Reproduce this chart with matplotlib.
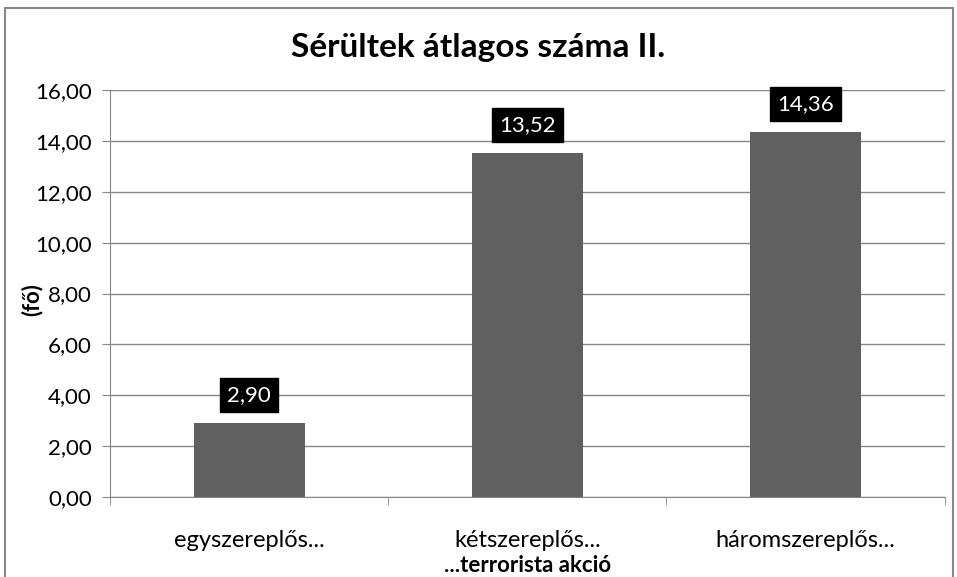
from matplotlib import pyplot as plt
from matplotlib.patches import Rectangle

categories = ["egyszereplős...", "kétszereplős...", "háromszereplős..."]
values = [2.90, 13.52, 14.36]
value_labels = ["2,90", "13,52", "14,36"]
yticks = [0, 2, 4, 6, 8, 10, 12, 14, 16]

plt.rcParams['font.family'] = ['Lato', 'DejaVu Sans']

fig = plt.figure(figsize=(9.57, 5.77), dpi=100)
fig.patches.append(Rectangle((5 / 957, -0.05), 948 / 957, 1.05 - 8 / 577,
                             transform=fig.transFigure, fill=False,
                             edgecolor='#888888', linewidth=1.5))

ax = fig.add_axes([0.115, 0.1386, 0.872, 0.7054])
x = range(len(categories))
ax.bar(x, values, width=0.4, color='#606060', zorder=3)

for i, v in enumerate(values):
    ax.text(i, v + 1.1, value_labels[i], ha='center', va='center',
            color='white', fontsize=16,
            bbox=dict(facecolor='black', edgecolor='black', pad=5), zorder=4)

ax.set_xlim(-0.5, 2.5)
ax.set_ylim(0, 16)
ax.set_yticks(yticks)
ax.set_yticklabels([("%.2f" % t).replace(".", ",") for t in yticks])
ax.set_xticks(list(x))
ax.set_xticklabels(categories, fontsize=17)
ax.set_xticks([-0.5, 0.5, 1.5, 2.5], minor=True)
ax.tick_params(axis='x', which='major', length=0, pad=24)
ax.tick_params(axis='x', which='minor', length=6, color='#868686')
ax.tick_params(axis='y', labelsize=16, length=6, pad=7, color='#868686')
ax.grid(axis='y', color='#868686', linewidth=1, zorder=0)
for s in ['top', 'right']:
    ax.spines[s].set_visible(False)
ax.spines['left'].set_color('#868686')
ax.spines['bottom'].set_color('#868686')

# x axis title placed by hand, the tick labels sit low like in the original
fig.text(ax.get_position().x0 + ax.get_position().width / 2, 1 - 565 / 577,
         "...terrorista akció", ha='center', va='center',
         fontsize=16, fontweight='bold')
fig.text(32 / 957, 1 - 300 / 577, "(fő)", rotation=90, ha='center', va='center',
         fontsize=16, fontweight='bold')
fig.text(0.5, 1 - 47 / 577, "Sérültek átlagos száma II.", ha='center', va='center',
         fontsize=24, fontweight='bold')

fig.savefig("out.png", dpi=100)
